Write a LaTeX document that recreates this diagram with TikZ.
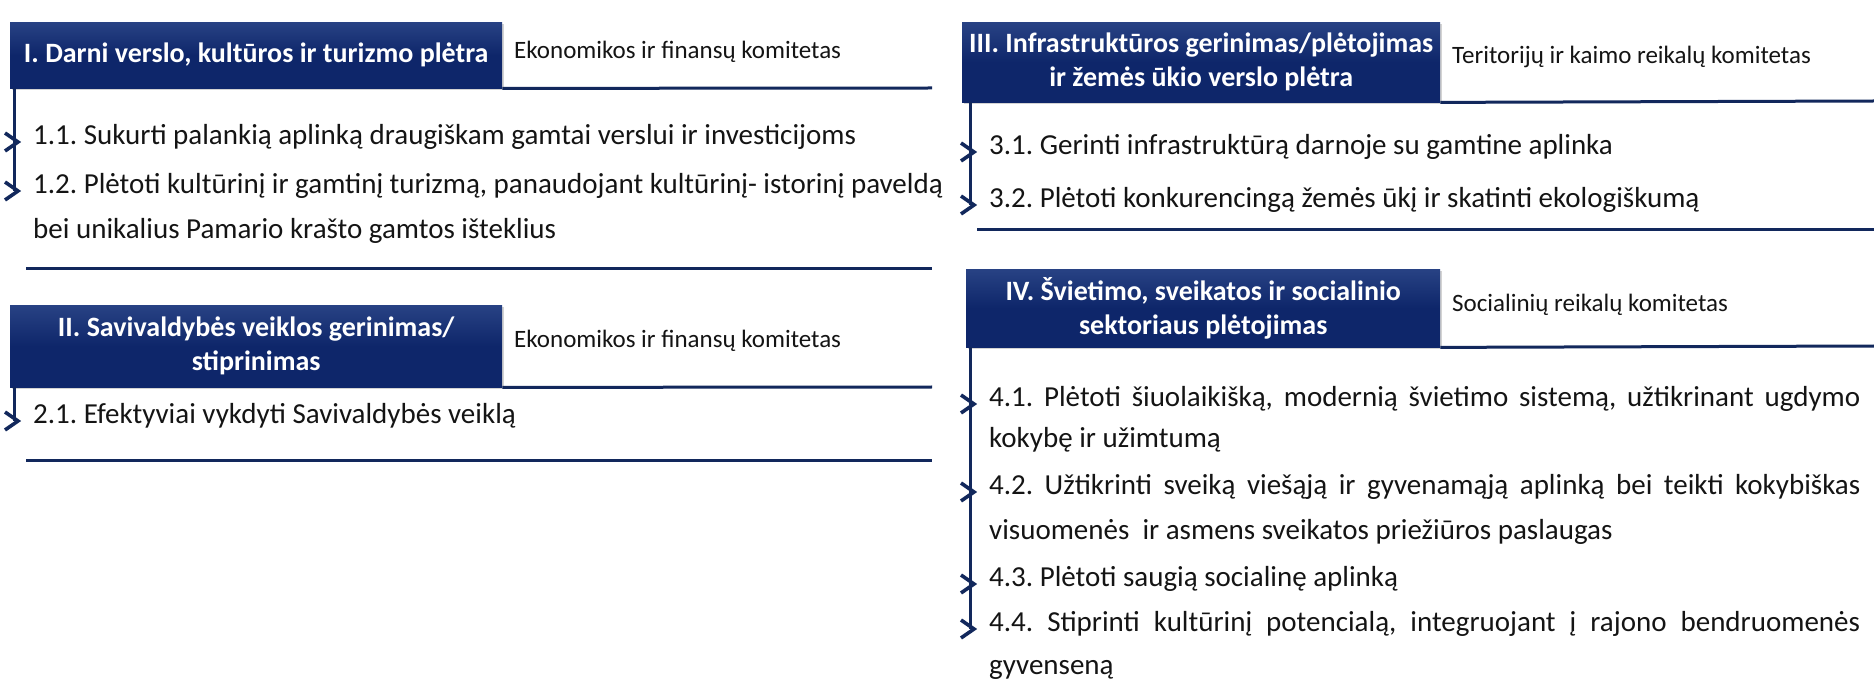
\documentclass[tikz,border=0pt]{standalone}
\usepackage{fontspec}
\setmainfont{Carlito}
\usetikzlibrary{shadows}
\definecolor{navy}{RGB}{14,38,106}
\definecolor{navytop}{RGB}{40,66,132}
\definecolor{lnavy}{RGB}{18,40,92}
\definecolor{txt}{RGB}{20,20,20}
\frenchspacing
\begin{document}
\begin{tikzpicture}[x=1pt,y=-1pt,
  hdr/.style={top color=navytop, bottom color=navy, middle color=navy, text=white,
    font=\bfseries\fontsize{28}{34}\selectfont, align=center, inner sep=0pt,
    anchor=north west, drop shadow={opacity=0.35, shadow xshift=1.5pt, shadow yshift=-2pt}},
  kom/.style={font=\fontsize{25}{30}\selectfont, text=txt, anchor=mid west, inner sep=0pt},
  item/.style={font=\fontsize{29}{34}\selectfont, text=txt, anchor=mid west, inner sep=0pt},
  rule/.style={draw=lnavy, line width=3pt},
  vline/.style={draw=lnavy, line width=3pt},
  chev/.style={draw=lnavy, line width=3.6pt, line join=miter},
]
\useasboundingbox (0,0) rectangle (1874,692);

% ---------- Section I ----------
\node[hdr, minimum width=492pt, minimum height=66pt] (h1) at (10,22)
  {I. Darni verslo, kultūros ir turizmo plėtra};
\node[kom] (k1) at (514,56) {Ekonomikos ir finansų komitetas};
\coordinate (r1e) at (932,88);
\draw[rule] (h1.south east) -- (r1e);
\coordinate (c11) at (14,142);
\coordinate (c12) at (14,191);
\draw[vline] ([xshift=4pt]h1.south west) -- (c12);
\foreach \c in {c11,c12} \draw[chev] (\c) ++(-9,-9) -- ++(13,9) -- ++(-13,9);
\node[item] (t11) at (33,142) {1.1. Sukurti palankią aplinką draugiškam gamtai verslui ir investicijoms};
\node[item] (t12) at (33,191) {1.2. Plėtoti kultūrinį ir gamtinį turizmą, panaudojant kultūrinį- istorinį paveldą};
\node[item] (t12b) at (33,236) {bei unikalius Pamario krašto gamtos išteklius};
\coordinate (s1a) at (26,269);
\coordinate (s1b) at (932,269);
\draw[rule] (s1a) -- (s1b);

% ---------- Section II ----------
\node[hdr, minimum width=492pt, minimum height=82pt] (h2) at (10,305)
  {II. Savivaldybės veiklos gerinimas/\\ stiprinimas};
\node[kom] (k2) at (514,345) {Ekonomikos ir finansų komitetas};
\coordinate (r2e) at (932,387);
\draw[rule] (h2.south east) -- (r2e);
\coordinate (c21) at (14,421);
\draw[vline] ([xshift=4pt]h2.south west) -- (c21);
\draw[chev] (c21) ++(-9,-9) -- ++(13,9) -- ++(-13,9);
\node[item] (t21) at (33,421) {2.1. Efektyviai vykdyti Savivaldybės veiklą};
\coordinate (s2a) at (26,460);
\coordinate (s2b) at (932,460);
\draw[rule] (s2a) -- (s2b);

% ---------- Section III ----------
\node[hdr, minimum width=478pt, minimum height=80pt] (h3) at (962,22)
  {III. Infrastruktūros gerinimas/plėtojimas\\ ir žemės ūkio verslo plėtra};
\node[kom] (k3) at (1452,61) {Teritorijų ir kaimo reikalų komitetas};
\coordinate (r3e) at (1874,101);
\draw[rule] (h3.south east) -- (r3e);
\coordinate (c31) at (970,152);
\coordinate (c32) at (970,205);
\draw[vline] ([xshift=8pt]h3.south west) -- (c32);
\foreach \c in {c31,c32} \draw[chev] (\c) ++(-9,-9) -- ++(13,9) -- ++(-13,9);
\node[item] (t31) at (989,152) {3.1. Gerinti infrastruktūrą darnoje su gamtine aplinka};
\node[item] (t32) at (989,205) {3.2. Plėtoti konkurencingą žemės ūkį ir skatinti ekologiškumą};
\coordinate (s3a) at (977,230);
\coordinate (s3b) at (1874,230);
\draw[rule] (s3a) -- (s3b);

% ---------- Section IV ----------
\node[hdr, minimum width=474pt, minimum height=78pt] (h4) at (966,269)
  {IV. Švietimo, sveikatos ir socialinio\\ sektoriaus plėtojimas};
\node[kom] (k4) at (1452,309) {Socialinių reikalų komitetas};
\coordinate (r4e) at (1874,346);
\draw[rule] (h4.south east) -- (r4e);
\coordinate (c41) at (970,404);
\coordinate (c42) at (970,492);
\coordinate (c43) at (970,584);
\coordinate (c44) at (970,629);
\draw[vline] ([xshift=4pt]h4.south west) -- (c44);
\foreach \c in {c41,c42,c43,c44} \draw[chev] (\c) ++(-9,-9) -- ++(13,9) -- ++(-13,9);
\node[item] (t41) at (989,404) {\makebox[871pt][s]{4.1. Plėtoti šiuolaikišką, modernią švietimo sistemą, užtikrinant ugdymo}};
\node[item] (t41b) at (989,445) {kokybę ir užimtumą};
\node[item] (t42) at (989,492) {\makebox[871pt][s]{4.2. Užtikrinti sveiką viešąją ir gyvenamąją aplinką bei teikti kokybiškas}};
\node[item] (t42b) at (989,537) {visuomenės\ \ ir asmens sveikatos priežiūros paslaugas};
\node[item] (t43) at (989,584) {4.3. Plėtoti saugią socialinę aplinką};
\node[item] (t44) at (989,629) {\makebox[871pt][s]{4.4. Stiprinti kultūrinį potencialą, integruojant į rajono bendruomenės}};
\node[item] (t44b) at (989,672) {gyvenseną};
\end{tikzpicture}
\end{document}
